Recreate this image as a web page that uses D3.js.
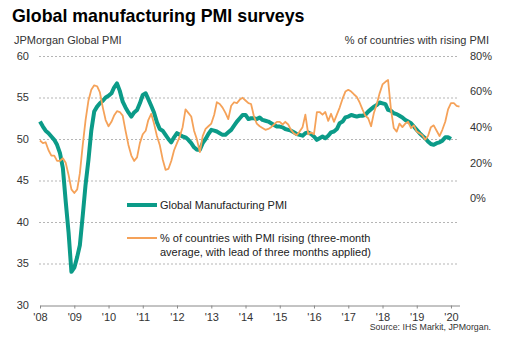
<!DOCTYPE html>
<html>
<head>
<meta charset="utf-8">
<script src="https://cdn.jsdelivr.net/npm/d3@7"></script>
<style>
  body { margin: 0; background: #fff; }
  text { font-family: "Liberation Sans", Arial, sans-serif; }
</style>
</head>
<body>
<div id="pmi_dataviz"></div>
<script>
// monthly data, green series starts Jan 2008, orange series starts Jan 2008 too (lead applied)
var startYear = 2008;

var pmi = [
  52.1, 51.5, 51.0, 50.7, 50.3, 49.9, 49.3, 48.3, 46.5, 42.5, 38.7, 34.0, // 2008
  34.5, 35.8, 37.2, 40.8, 44.5, 47.5, 51.0, 53.3, 53.9, 54.3, 54.6, 55.0, // 2009
  55.2, 55.5, 56.2, 56.7, 55.8, 54.5, 53.8, 53.2, 52.7, 53.2, 53.5, 54.3, // 2010
  55.3, 55.5, 54.8, 54.0, 53.2, 52.0, 51.2, 51.0, 50.5, 50.0, 49.6, 50.2, // 2011
  50.7, 50.5, 50.3, 50.2, 49.9, 49.5, 49.0, 48.7, 48.7, 49.5, 50.0, 50.6, // 2012
  51.1, 51.0, 50.9, 50.7, 50.5, 50.5, 50.8, 51.1, 51.6, 52.1, 52.5, 52.9, // 2013
  52.9, 52.4, 52.5, 52.5, 52.4, 52.6, 52.3, 52.2, 52.1, 51.9, 51.7, 51.5, // 2014
  51.5, 51.4, 51.2, 51.1, 51.0, 50.8, 50.6, 50.5, 50.4, 50.7, 50.8, 50.6, // 2015
  50.3, 49.9, 50.1, 50.3, 50.1, 50.4, 50.8, 50.9, 51.2, 51.9, 52.1, 52.6, // 2016
  52.7, 52.9, 52.8, 52.7, 52.8, 52.8, 52.9, 53.3, 53.6, 53.9, 54.1, 54.4, // 2017
  54.3, 54.2, 53.5, 53.4, 53.1, 53.0, 52.8, 52.6, 52.3, 52.1, 51.9, 51.5, // 2018
  51.1, 50.7, 50.4, 50.1, 49.7, 49.4, 49.3, 49.5, 49.6, 49.8, 50.2, 50.2, // 2019
  50.0                                                                    // 2020
];

var rising = [
  32.5, 31.0, 31.5, 27.0, 24.0, 24.0, 21.0, 21.0, 22.5, 20.0, 13.0, 5.0,  // 2008
  3.0, 5.0, 14.0, 30.0, 44.0, 55.0, 61.0, 63.5, 63.0, 59.5, 51.0, 44.0,   // 2009
  40.5, 43.0, 46.5, 49.0, 48.5, 46.5, 38.0, 30.0, 24.0, 21.0, 23.0, 31.0, // 2010
  36.0, 38.0, 44.0, 47.5, 42.0, 35.0, 30.0, 22.0, 16.0, 16.5, 21.0, 27.0, // 2011
  31.0, 35.0, 40.0, 50.0, 48.0, 46.0, 38.0, 33.0, 26.0, 35.0, 39.0, 40.5, // 2012
  42.0, 47.0, 54.0, 53.0, 51.0, 48.0, 44.5, 52.0, 54.0, 53.5, 55.5, 56.5, // 2013
  55.0, 53.5, 53.0, 46.0, 42.0, 40.5, 39.5, 38.5, 39.0, 40.0, 41.5, 43.0, // 2014
  43.0, 41.5, 43.0, 41.5, 38.5, 36.5, 35.5, 37.5, 40.0, 47.0, 36.0, 37.0, // 2015
  36.0, 48.5, 48.5, 47.0, 48.5, 43.5, 47.5, 43.0, 47.0, 51.0, 56.0, 60.0, // 2016
  61.0, 60.0, 58.5, 57.0, 54.0, 50.0, 46.5, 45.0, 40.5, 48.0, 53.0, 59.0, // 2017
  64.0, 65.5, 66.5, 50.0, 39.5, 37.5, 42.0, 40.0, 42.0, 43.0, 39.5, 41.0, // 2018
  37.5, 36.5, 35.5, 33.0, 35.0, 40.0, 41.0, 38.0, 35.0, 38.5, 43.0, 50.0, // 2019
  53.5, 53.5, 52.0, 51.5                                                  // 2020
];

var yearTicks = [2008, 2009, 2010, 2011, 2012, 2013, 2014, 2015, 2016, 2017, 2018, 2019, 2020];
var leftTicks = [30, 35, 40, 45, 50, 55, 60];
var rightTicks = [0, 20, 40, 60, 80];

var width = 509, height = 351;
var plot = {left: 40, right: 459.5, top: 56, bottom: 305};

var svg = d3.select("#pmi_dataviz")
  .append("svg")
    .attr("width", width)
    .attr("height", height);

// scales
var x = d3.scaleTime()
    .domain([new Date(2008, 0, 1), new Date(2020, 3, 1)])
    .range([plot.left, plot.right]);
var y = d3.scaleLinear()
    .domain([30, 60])
    .range([plot.bottom, plot.top]);
var yR = d3.scaleLinear()          // right axis only shows 0..80 but runs down to -60 at the bottom
    .domain([-60, 80])
    .range([plot.bottom, plot.top]);

function monthDate(i) { return new Date(startYear, i, 1); }

// title
svg.append("text")
    .attr("x", 12).attr("y", 22)
    .style("font-size", "17.8px").style("font-weight", "bold").attr("fill", "#000")
    .text("Global manufacturing PMI surveys");

svg.append("text")
    .attr("x", 14).attr("y", 44)
    .style("font-size", "11px").attr("fill", "#333")
    .text("JPMorgan Global PMI");

svg.append("text")
    .attr("x", 489).attr("y", 44)
    .attr("text-anchor", "end")
    .style("font-size", "11px").attr("fill", "#333")
    .text("% of countries with rising PMI");

// gridlines
svg.append("g")
  .selectAll("line")
  .data(leftTicks.filter(function(d) { return d > 30; }))
  .enter()
  .append("line")
    .attr("x1", plot.left - 1).attr("x2", 459)
    .attr("y1", function(d) { return y(d) + 0.5; })
    .attr("y2", function(d) { return y(d) + 0.5; })
    .attr("stroke", "#b5b5b5")
    .attr("stroke-width", 1)
    .attr("stroke-dasharray", "2,2");

// left axis labels
svg.append("g")
  .selectAll("text")
  .data(leftTicks)
  .enter()
  .append("text")
    .attr("x", 29)
    .attr("y", function(d) { return y(d); })
    .attr("dy", "0.35em")
    .attr("text-anchor", "end")
    .style("font-size", "11px").attr("fill", "#333")
    .text(function(d) { return d; });

// right axis labels
svg.append("g")
  .selectAll("text")
  .data(rightTicks)
  .enter()
  .append("text")
    .attr("x", 470)
    .attr("y", function(d) { return yR(d); })
    .attr("dy", "0.35em")
    .style("font-size", "11px").attr("fill", "#333")
    .text(function(d) { return d + "%"; });

// x axis
var xAxis = svg.append("g")
    .attr("transform", "translate(0," + (plot.bottom + 0.5) + ")")
    .call(d3.axisBottom(x)
      .tickValues(yearTicks.map(function(d) { return new Date(d, 0, 1); }))
      .tickFormat(function(d) { return "'" + d3.timeFormat("%y")(d); })
      .tickSize(3)
      .tickSizeOuter(0)
      .tickPadding(5));
xAxis.select(".domain").attr("stroke", "#888");
xAxis.selectAll(".tick line").attr("stroke", "#888");
xAxis.selectAll(".tick text")
    .style("font-size", "11px")
    .style("font-family", "'Liberation Sans', Arial, sans-serif")
    .attr("fill", "#333");

// lines
var pmiLine = d3.line()
    .x(function(d, i) { return x(monthDate(i)); })
    .y(function(d) { return y(d); });
var risingLine = d3.line()
    .x(function(d, i) { return x(monthDate(i)); })
    .y(function(d) { return yR(d); });

svg.append("path")
    .datum(pmi)
    .attr("fill", "none")
    .attr("stroke", "#0b9b88")
    .attr("stroke-width", 4)
    .attr("stroke-linejoin", "round")
    .attr("d", pmiLine);

svg.append("path")
    .datum(rising)
    .attr("fill", "none")
    .attr("stroke", "#f5a259")
    .attr("stroke-width", 1.8)
    .attr("stroke-linejoin", "round")
    .attr("d", risingLine);

// legend
var legend = svg.append("g");
legend.append("line")
    .attr("x1", 127).attr("x2", 157).attr("y1", 205).attr("y2", 205)
    .attr("stroke", "#0b9b88").attr("stroke-width", 4);
legend.append("text")
    .attr("x", 160).attr("y", 209)
    .style("font-size", "11px").attr("fill", "#222")
    .text("Global Manufacturing PMI");
legend.append("line")
    .attr("x1", 127).attr("x2", 157).attr("y1", 238).attr("y2", 238)
    .attr("stroke", "#f5a259").attr("stroke-width", 2);
legend.append("text")
    .attr("x", 160).attr("y", 242)
    .style("font-size", "11px").attr("fill", "#222")
    .text("% of countries with PMI rising (three-month");
legend.append("text")
    .attr("x", 160).attr("y", 255.5)
    .style("font-size", "11px").attr("fill", "#222")
    .text("average, with lead of three months applied)");

// source
svg.append("text")
    .attr("x", 491).attr("y", 330)
    .attr("text-anchor", "end")
    .style("font-size", "8.8px").attr("fill", "#333")
    .text("Source: IHS Markit, JPMorgan.");
</script>
</body>
</html>
